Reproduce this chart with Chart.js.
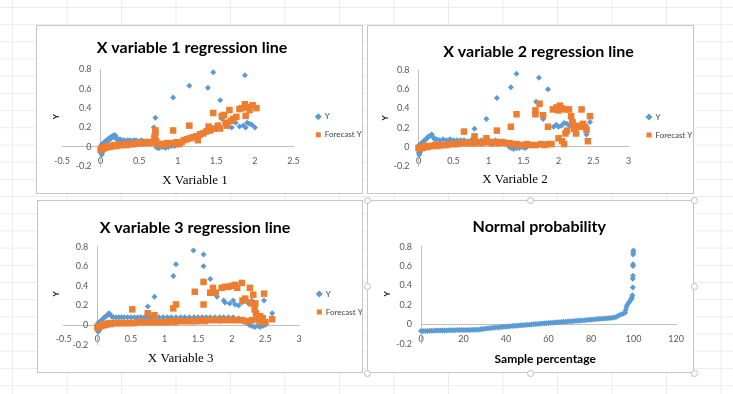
<!DOCTYPE html>
<html lang="en">
<head>
<meta charset="UTF-8">
<title>Regression lines</title>
<script src="https://cdn.jsdelivr.net/npm/chart.js"></script>
<style>
    body {
        margin: 0; width: 733px; height: 394px; position: relative; overflow: hidden;
        background-color: #fff;
        background-image: linear-gradient(to right, #ececec 1px, transparent 1px),
                          linear-gradient(to bottom, #ececec 1px, transparent 1px);
        background-size: 54.5px 17.2px;
        background-position: 12px 7px;
    }
    .panel { position: absolute; background: #fff; border: 1px solid #c6c6c6; }
    .panel canvas { display: block; }
    .handle { position: absolute; width: 5px; height: 5px; border-radius: 50%; background: #fff; border: 1px solid #bdbdbd; }
</style>
</head>
<body>
<div class="panel" style="left:36px;top:25px;"><canvas id="chart1" width="325" height="167"></canvas></div>
<div class="panel" style="left:367px;top:25px;"><canvas id="chart2" width="325" height="167"></canvas></div>
<div class="panel" style="left:37px;top:200px;"><canvas id="chart3" width="324" height="171"></canvas></div>
<div class="panel" style="left:367px;top:200px;"><canvas id="chart4" width="325" height="171"></canvas></div>

<!-- selection handles of the 4th chart -->
<div class="handle" style="left:364px;top:197px;"></div>
<div class="handle" style="left:527px;top:197px;"></div>
<div class="handle" style="left:691px;top:197px;"></div>
<div class="handle" style="left:364px;top:283px;"></div>
<div class="handle" style="left:691px;top:283px;"></div>
<div class="handle" style="left:364px;top:370px;"></div>
<div class="handle" style="left:527px;top:370px;"></div>
<div class="handle" style="left:691px;top:370px;"></div>

<script>
    // ---- data ----
    const seriesNames = ['Y', 'Forecast Y'];

    const x1Actual = [[0,-0.02],[0.005,-0.05],[0.01,-0.07],[0.015,-0.08],[0.02,-0.06],[0.025,-0.04],[0.01,0.02],[0.02,0.03],
        [0.03,0.01],[0.035,0.04],[0.04,0.02],[0.05,0.05],[0.06,0.04],[0.07,0.06],[0.08,0.07],[0.09,0.06],[0.1,0.08],[0.11,0.09],
        [0.12,0.08],[0.13,0.1],[0.14,0.09],[0.15,0.11],[0.16,0.1],[0.17,0.12],[0.18,0.11],[0.19,0.12],[0.2,0.1],[0.21,0.08],
        [0.23,0.07],[0.25,0.08],[0.27,0.07],[0.3,0.07],[0.32,0.06],[0.35,0.07],[0.38,0.07],[0.4,0.06],[0.43,0.07],[0.46,0.07],
        [0.5,0.06],[0.53,0.07],[0.56,0.06],[0.6,0.06],[0.63,0.05],[0.66,0.05],[0.69,0.04],[0.69,0.2],[0.71,0.3],[0.7,0.12],
        [0.72,0.0],[0.74,-0.01],[0.76,-0.01],[0.8,0.0],[0.84,-0.01],[0.88,0.0],[0.92,0.01],[0.96,0.01],[0.94,0.51],[1.0,0.02],
        [1.15,0.63],[1.3,0.12],[1.35,0.15],[1.39,0.61],[1.46,0.77],[1.5,0.18],[1.55,0.48],[1.57,0.29],[1.65,0.23],[1.7,0.2],
        [1.75,0.25],[1.8,0.21],[1.85,0.22],[1.87,0.74],[1.88,0.2],[1.9,0.25],[1.93,0.24],[1.96,0.23],[2.0,0.2]];
    const x1Forecast = [[0,-0.03],[0.01,-0.02],[0.02,-0.01],[0.03,-0.02],[0.04,0.0],[0.06,-0.01],[0.08,0.0],[0.1,0.01],
        [0.12,0.0],[0.14,0.01],[0.16,0.01],[0.18,0.02],[0.2,0.01],[0.22,0.02],[0.25,0.02],[0.28,0.02],[0.31,0.03],[0.34,0.02],
        [0.37,0.03],[0.4,0.03],[0.43,0.03],[0.46,0.04],[0.5,0.04],[0.53,0.04],[0.56,0.04],[0.6,0.05],[0.63,0.04],[0.66,0.05],
        [0.69,0.05],[0.7,0.08],[0.7,0.11],[0.71,0.14],[0.71,0.17],[0.72,0.06],[0.74,0.03],[0.77,0.03],[0.8,0.02],[0.83,0.03],
        [0.86,0.04],[0.89,0.03],[0.92,0.04],[0.94,0.17],[0.96,0.04],[0.99,0.05],[1.02,0.03],[1.05,0.05],[1.08,0.07],[1.12,0.08],
        [1.15,0.22],[1.16,0.09],[1.2,0.1],[1.24,0.11],[1.26,0.07],[1.29,0.13],[1.33,0.14],[1.37,0.16],[1.4,0.21],[1.42,0.17],
        [1.46,0.35],[1.47,0.19],[1.52,0.22],[1.55,0.19],[1.57,0.32],[1.6,0.33],[1.62,0.25],[1.64,0.22],[1.67,0.38],[1.69,0.27],
        [1.72,0.29],[1.76,0.31],[1.8,0.39],[1.83,0.4],[1.87,0.44],[1.88,0.32],[1.9,0.41],[1.93,0.38],[1.97,0.43],[2.02,0.4]];

    const x2Actual = [[0,-0.02],[0.005,-0.06],[0.01,-0.08],[0.02,-0.06],[0.03,-0.04],[0.01,0.02],[0.03,0.03],[0.05,0.04],
        [0.07,0.06],[0.09,0.07],[0.11,0.08],[0.13,0.1],[0.15,0.11],[0.17,0.12],[0.19,0.13],[0.21,0.1],[0.23,0.08],[0.26,0.08],
        [0.3,0.07],[0.35,0.08],[0.4,0.07],[0.45,0.08],[0.5,0.07],[0.55,0.07],[0.6,0.07],[0.65,0.07],[0.7,0.06],[0.75,0.07],
        [0.8,0.19],[0.8,0.07],[0.85,0.06],[0.9,0.07],[0.95,0.07],[0.97,0.29],[1.0,0.07],[1.05,0.06],[1.1,0.07],[1.12,0.51],
        [1.15,0.06],[1.2,0.06],[1.25,0.05],[1.28,0.02],[1.3,0.0],[1.32,0.62],[1.33,-0.01],[1.36,-0.02],[1.4,0.76],[1.4,-0.01],
        [1.44,-0.01],[1.48,0.0],[1.52,-0.01],[1.55,0.0],[1.68,0.47],[1.72,0.72],[1.78,0.29],[1.85,0.6],[1.93,0.21],[1.97,0.23],
        [2.0,0.21],[2.04,0.22],[2.08,0.25],[2.12,0.24],[2.16,0.22],[2.2,0.23],[2.25,0.2],[2.3,0.22],[2.35,0.2],[2.4,0.13],[2.45,0.26]];
    const x2Forecast = [[0,-0.01],[0.02,-0.02],[0.04,0.0],[0.06,-0.01],[0.08,0.0],[0.1,0.01],[0.13,0.0],[0.16,0.01],
        [0.2,0.01],[0.24,0.02],[0.28,0.01],[0.32,0.02],[0.36,0.02],[0.4,0.02],[0.45,0.03],[0.5,0.03],[0.55,0.03],[0.6,0.04],
        [0.65,0.16],[0.65,0.04],[0.7,0.04],[0.75,0.04],[0.8,0.11],[0.8,0.04],[0.85,0.05],[0.9,0.04],[0.95,0.05],[0.97,0.09],
        [1.0,0.05],[1.05,0.04],[1.1,0.05],[1.12,0.17],[1.15,0.04],[1.2,0.05],[1.25,0.04],[1.3,0.04],[1.32,0.21],[1.35,0.03],
        [1.4,0.34],[1.4,0.03],[1.45,0.02],[1.5,0.02],[1.55,0.03],[1.6,0.02],[1.67,0.38],[1.67,0.34],[1.68,0.02],[1.73,0.45],
        [1.75,0.03],[1.78,0.33],[1.8,0.02],[1.85,0.21],[1.85,0.03],[1.9,0.03],[1.92,0.39],[1.97,0.41],[2.0,0.09],[2.0,0.38],
        [2.02,0.43],[2.05,0.06],[2.05,0.4],[2.08,0.03],[2.1,0.39],[2.1,0.14],[2.12,0.17],[2.15,0.39],[2.18,0.32],[2.2,0.26],
        [2.2,0.24],[2.22,0.19],[2.25,0.14],[2.27,0.22],[2.3,0.21],[2.33,0.39],[2.35,0.24],[2.38,0.21],[2.4,0.18],[2.42,0.06],[2.45,0.32]];

    const x3Actual = [[0,-0.02],[0.005,-0.05],[0.01,-0.07],[0.02,-0.06],[0.03,-0.04],[0.01,0.02],[0.03,0.03],[0.05,0.04],
        [0.07,0.05],[0.09,0.07],[0.11,0.08],[0.13,0.09],[0.15,0.1],[0.17,0.12],[0.19,0.11],[0.21,0.09],[0.24,0.08],[0.28,0.08],
        [0.32,0.08],[0.36,0.08],[0.4,0.08],[0.45,0.08],[0.5,0.08],[0.55,0.08],[0.6,0.08],[0.65,0.08],[0.7,0.08],[0.75,0.19],
        [0.75,0.08],[0.8,0.08],[0.85,0.29],[0.86,0.08],[0.92,0.08],[0.98,0.08],[1.04,0.08],[1.1,0.08],[1.13,0.5],[1.17,0.62],
        [1.17,0.08],[1.24,0.08],[1.3,0.08],[1.37,0.08],[1.43,0.76],[1.44,0.08],[1.5,0.08],[1.56,0.08],[1.58,0.72],[1.58,0.6],
        [1.62,0.08],[1.68,0.47],[1.68,0.08],[1.75,0.08],[1.78,0.29],[1.82,0.08],[1.88,0.25],[1.88,0.08],[1.9,0.23],[1.95,0.08],
        [1.97,0.22],[2.02,0.25],[2.02,0.08],[2.05,0.21],[2.1,0.2],[2.1,0.07],[2.15,0.23],[2.18,0.06],[2.2,0.25],[2.22,0.02],
        [2.25,0.22],[2.26,0.0],[2.3,0.25],[2.3,-0.01],[2.34,-0.02],[2.38,-0.01],[2.42,-0.02],[2.46,-0.01],[2.48,0.25],[2.5,0.0],[2.6,0.12]];
    const x3Forecast = [[0,-0.02],[0.02,-0.03],[0.04,-0.01],[0.06,-0.01],[0.08,0.0],[0.1,0.01],[0.12,0.0],[0.15,0.01],
        [0.18,0.02],[0.2,0.01],[0.24,0.02],[0.28,0.02],[0.32,0.02],[0.36,0.02],[0.4,0.02],[0.45,0.02],[0.5,0.02],[0.52,0.16],
        [0.55,0.02],[0.6,0.03],[0.65,0.03],[0.7,0.03],[0.75,0.12],[0.75,0.03],[0.8,0.03],[0.85,0.1],[0.85,0.03],[0.9,0.03],
        [0.95,0.03],[1.0,0.03],[1.05,0.03],[1.1,0.04],[1.13,0.17],[1.17,0.21],[1.15,0.03],[1.2,0.04],[1.25,0.04],[1.3,0.04],
        [1.35,0.04],[1.4,0.04],[1.45,0.34],[1.45,0.04],[1.5,0.04],[1.55,0.05],[1.58,0.44],[1.58,0.21],[1.6,0.04],[1.65,0.05],
        [1.68,0.33],[1.72,0.38],[1.72,0.05],[1.76,0.33],[1.8,0.05],[1.85,0.38],[1.85,0.05],[1.9,0.39],[1.92,0.05],[1.95,0.39],
        [2.0,0.4],[2.0,0.05],[2.05,0.41],[2.06,0.05],[2.08,0.38],[2.12,0.05],[2.15,0.43],[2.16,0.25],[2.2,0.27],[2.2,0.04],
        [2.25,0.04],[2.27,0.38],[2.28,0.23],[2.3,0.22],[2.3,0.05],[2.32,0.31],[2.34,0.16],[2.35,0.22],[2.36,0.12],[2.38,0.08],
        [2.4,0.05],[2.42,0.09],[2.44,0.03],[2.46,0.07],[2.48,0.32],[2.5,0.03],[2.6,0.06]];

    // normal probability: sample percentage vs sorted Y
    const probPoints = [[0,-0.07],[1,-0.069],[2,-0.068],[3,-0.068],[4,-0.067],[5,-0.066],[6,-0.066],[7,-0.065],[8,-0.065],
        [9,-0.064],[10,-0.064],[11,-0.063],[12,-0.063],[13,-0.062],[14,-0.062],[15,-0.061],[16,-0.061],[17,-0.06],[18,-0.06],
        [19,-0.059],[20,-0.059],[21,-0.058],[22,-0.058],[23,-0.058],[24,-0.057],[25,-0.057],[26,-0.056],[27,-0.055],[28,-0.052],
        [29,-0.049],[30,-0.046],[31,-0.043],[32,-0.041],[33,-0.038],[34,-0.036],[35,-0.034],[36,-0.032],[37,-0.03],[38,-0.028],
        [39,-0.026],[40,-0.024],[41,-0.022],[42,-0.02],[43,-0.018],[44,-0.016],[45,-0.014],[46,-0.012],[47,-0.011],[48,-0.009],
        [49,-0.007],[50,-0.005],[51,-0.004],[52,-0.002],[53,0],[54,0.002],[55,0.004],[56,0.006],[57,0.008],[58,0.01],[59,0.012],
        [60,0.014],[61,0.016],[62,0.017],[63,0.019],[64,0.021],[65,0.022],[66,0.024],[67,0.026],[68,0.027],[69,0.029],[70,0.031],
        [71,0.032],[72,0.034],[73,0.036],[74,0.037],[75,0.039],[76,0.04],[77,0.042],[78,0.044],[79,0.046],[80,0.048],[81,0.05],
        [82,0.052],[83,0.054],[84,0.056],[85,0.057],[86,0.059],[87,0.061],[88,0.063],[89,0.065],[90,0.067],[91,0.07],[92,0.078],
        [93,0.09],[94,0.1],[95,0.11],[96,0.12],[96.3,0.15],[96.6,0.18],[97,0.2],[97.5,0.22],[98,0.23],[98.5,0.25],[99,0.26],
        [99.2,0.28],[99.4,0.3],[99.6,0.38],[99.6,0.47],[99.7,0.5],[99.7,0.6],[99.7,0.62],[99.8,0.72],[99.8,0.74],[99.9,0.76]];

    const yRange = [-0.2, 0.8, 0.2];        // min, max, step of every Y axis
    const xRange1 = [-0.5, 2.5, 0.5];
    const xRange2 = [0, 3, 0.5];
    const xRange3 = [-0.5, 3, 0.5];
    const xRange4 = [0, 120, 20];

    const BLUE = '#5B9BD5';
    const ORANGE = '#ED7D31';

    // plugin: moves the title / legend to the Excel spots and writes the axis names
    const panelText = {
        id: 'panelText',
        afterLayout(chart, args, o) {
            const t = chart.titleBlock;
            if (t) {
                const h = t.bottom - t.top;
                t.left = o.title[0] - 150; t.right = o.title[0] + 150;
                t.top = o.title[1] - h / 2; t.bottom = t.top + h;
            }
            const lg = chart.legend;
            if (lg && o.legend) {
                const w = lg.width, h = lg.height;
                lg.left = o.legend[0]; lg.right = lg.left + w;
                lg.top = o.legend[1]; lg.bottom = lg.top + h;
            }
        },
        afterDraw(chart, args, o) {
            const ctx = chart.ctx;
            ctx.save();
            ctx.fillStyle = '#000';
            ctx.textAlign = 'center';
            ctx.textBaseline = 'middle';
            ctx.font = o.xFont;
            ctx.fillText(o.xText, o.xPos[0], o.xPos[1]);
            ctx.translate(o.yPos[0], o.yPos[1]);
            ctx.rotate(-Math.PI / 2);
            ctx.font = 'bold 8px Lato';
            ctx.fillText('Y', 0, 0);
            ctx.restore();
        }
    };

    const toPts = arr => arr.map(([x, y]) => ({ x: x, y: y }));
    const fmt = v => String(Math.round(v * 10) / 10);
    // y labels sit at the crossing line, keep a gap like Excel does
    const fmtY = v => fmt(v) + '\u2002\u2002';

    function axes(xr) {
        const tickFont = { family: 'Lato', size: 9 };
        return {
            x: {
                type: 'linear', min: xr[0], max: xr[1], position: { y: 0 },
                ticks: { stepSize: xr[2], font: tickFont, color: '#595959', padding: 9, maxRotation: 0, autoSkip: false, callback: fmt },
                grid: { display: false, drawTicks: false },
                border: { color: '#bfbfbf' }
            },
            y: {
                type: 'linear', min: yRange[0], max: yRange[1], position: { x: 0 },
                ticks: { stepSize: yRange[2], font: tickFont, color: '#595959', padding: 9, callback: fmtY },
                grid: { display: false, drawTicks: false },
                border: { color: '#bfbfbf' }
            }
        };
    }

    function makeChart(id, title, datasets, xr, pad, text, showLegend) {
        return new Chart(document.getElementById(id), {
            type: 'scatter',
            data: { datasets: datasets },
            options: {
                responsive: false,
                animation: false,
                layout: { padding: pad },
                scales: axes(xr),
                plugins: {
                    title: { display: true, text: title, color: '#000', padding: 0,
                             font: { family: 'Lato', size: 16, weight: 'bold' } },
                    legend: {
                        display: showLegend, position: 'chartArea', align: 'start',
                        labels: { usePointStyle: true, boxWidth: 5, boxHeight: 5, padding: 10, color: '#404040',
                                  font: { family: 'Lato', size: 8 },
                                  sort: (a, b) => a.datasetIndex - b.datasetIndex }
                    },
                    tooltip: { enabled: false },
                    panelText: text
                }
            },
            plugins: [panelText]
        });
    }

    function pair(actual, forecast) {
        return [
            { label: seriesNames[0], data: toPts(actual), pointStyle: 'rectRot', pointRadius: 3,
              backgroundColor: BLUE, borderColor: BLUE, borderWidth: 0, order: 2, clip: false },
            { label: seriesNames[1], data: toPts(forecast), pointStyle: 'rect', pointRadius: 4.6,
              backgroundColor: ORANGE, borderColor: ORANGE, borderWidth: 0, order: 1, clip: false }
        ];
    }

    const serif = '13px "Liberation Serif"';

    makeChart('chart1', 'X variable 1 regression line', pair(x1Actual, x1Forecast), xRange1,
        { left: 25, right: 68.5, top: 24.1, bottom: 26.6 },
        { title: [155, 22.3], legend: [268.8, 76.7], xText: 'X Variable 1', xFont: serif, xPos: [158, 155], yPos: [19, 90.7] }, true);

    makeChart('chart2', 'X variable 2 regression line', pair(x2Actual, x2Forecast), xRange2,
        { left: 50.5, right: 64.5, top: 24.8, bottom: 26.8 },
        { title: [170.5, 25.7], legend: [268.5, 77], xText: 'X Variable 2', xFont: serif, xPos: [147, 154], yPos: [17, 92] }, true);

    makeChart('chart3', 'X variable 3 regression line', pair(x3Actual, x3Forecast), xRange3,
        { left: 25.7, right: 63, top: 26.5, bottom: 27.4 },
        { title: [157, 27.3], legend: [268.8, 79], xText: 'X Variable 3', xFont: serif, xPos: [142.7, 158], yPos: [18, 93] }, true);

    makeChart('chart4', 'Normal probability',
        [{ label: seriesNames[0], data: toPts(probPoints), pointStyle: 'rectRot', pointRadius: 3,
           backgroundColor: BLUE, borderColor: BLUE, borderWidth: 0, clip: false }],
        xRange4,
        { left: 53, right: 16.7, top: 26.5, bottom: 28.3 },
        { title: [171.3, 26.3], legend: null, xText: 'Sample percentage', xFont: 'bold 12px Lato', xPos: [177.2, 158], yPos: [19.7, 93] }, false);
</script>
</body>
</html>
